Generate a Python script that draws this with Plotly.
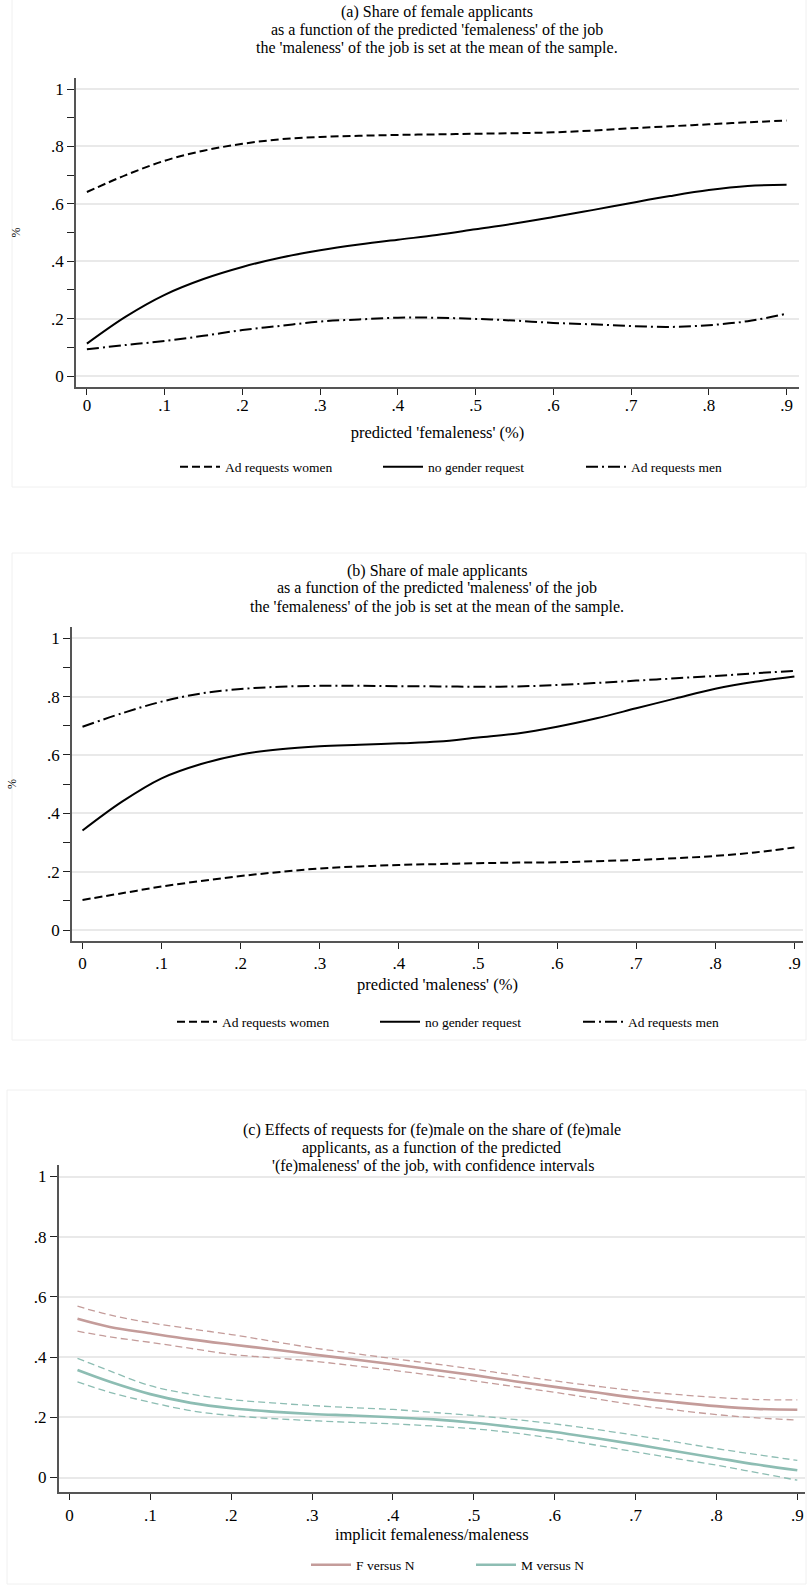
import plotly.graph_objects as go

W, H = 807, 1585
FONT = "Liberation Serif"

# ---------------- data ----------------
x_ab = [0.0, 0.05, 0.1, 0.15, 0.2, 0.25, 0.3, 0.35, 0.4, 0.45,
        0.5, 0.55, 0.6, 0.65, 0.7, 0.75, 0.8, 0.85, 0.9]

# (a) share of female applicants vs predicted femaleness
a_women = [.641, .700, .750, .785, .809, .825, .833, .837, .840, .842,
           .844, .846, .849, .855, .863, .870, .877, .884, .890]
a_none = [.113, .207, .283, .338, .380, .413, .438, .458, .475, .491,
          .511, .531, .554, .578, .603, .627, .648, .662, .666]
a_men = [.093, .108, .122, .140, .160, .175, .190, .197, .203, .203,
         .199, .193, .185, .180, .174, .171, .177, .191, .217]

# (b) share of male applicants vs predicted maleness
b_women = [.103, .126, .149, .168, .185, .199, .211, .218, .223, .226,
           .229, .231, .232, .236, .240, .246, .254, .266, .283]
b_none = [.341, .440, .520, .569, .602, .620, .630, .635, .640, .646,
          .660, .674, .697, .726, .760, .794, .827, .851, .869]
b_men = [.697, .743, .783, .811, .826, .834, .837, .837, .836, .835,
         .834, .835, .840, .847, .855, .863, .871, .880, .888]

# (c) effects with confidence intervals
x_c = [0.01, 0.05, 0.1, 0.15, 0.2, 0.25, 0.3, 0.35, 0.4, 0.45,
       0.5, 0.55, 0.6, 0.65, 0.7, 0.75, 0.8, 0.85, 0.9]
c_f = [.527, .500, .479, .459, .442, .426, .409, .393, .376, .358,
       .340, .320, .301, .283, .265, .250, .237, .228, .225]
c_f_hi = [.569, .540, .514, .494, .475, .453, .431, .413, .395, .378,
          .360, .340, .321, .304, .288, .276, .266, .259, .258]
c_f_lo = [.486, .467, .449, .429, .409, .398, .387, .372, .356, .339,
          .321, .302, .283, .262, .241, .224, .209, .198, .191]
c_m = [.357, .318, .277, .248, .230, .219, .211, .206, .200, .193,
       .182, .167, .151, .131, .110, .087, .065, .043, .024]
c_m_hi = [.396, .354, .305, .277, .259, .248, .239, .232, .226, .216,
          .206, .193, .178, .160, .140, .118, .096, .076, .057]
c_m_lo = [.318, .283, .250, .222, .206, .196, .189, .183, .178, .171,
          .162, .148, .129, .108, .085, .063, .041, .016, -.009]

x_ticks = [0, .1, .2, .3, .4, .5, .6, .7, .8, .9]
x_ticklabels = ["0", ".1", ".2", ".3", ".4", ".5", ".6", ".7", ".8", ".9"]
y_ticks = [0, .2, .4, .6, .8, 1]
y_ticklabels = ["0", ".2", ".4", ".6", ".8", "1"]

titles = {
    "a": ["(a) Share of female applicants",
          "as a function of the predicted 'femaleness' of the job",
          "the 'maleness' of the job is set at the mean of the sample."],
    "b": ["(b) Share of male applicants",
          "as a function of the predicted 'maleness' of the job",
          "the 'femaleness' of the job is set at the mean of the sample."],
    "c": ["(c) Effects of requests for (fe)male on the share of (fe)male",
          "applicants, as a function of the predicted",
          " '(fe)maleness' of the job, with confidence intervals"],
}
x_titles = {"a": "predicted 'femaleness' (%)",
            "b": "predicted 'maleness' (%)",
            "c": "implicit femaleness/maleness"}

# ---------------- layout geometry (pixels) ----------------
geo = {
    "a": dict(l=76, r=799, t=78, b=387, x0=86.9, xu=777.4, y0=376.0, yu=287.0,
              title_x=437, title_y=[12, 30, 48], legend_x=175, legend_y=467,
              entry=148, lstand=-4, tstand=12, box=(12, -2, 806, 487)),
    "b": dict(l=72, r=803, t=627, b=941, x0=82.5, xu=791.0, y0=930.0, yu=291.7,
              title_x=437, title_y=[570.5, 588.5, 606.5], legend_x=172, legend_y=1022,
              entry=148, lstand=0, tstand=6, box=(12, 553, 806, 1040)),
    "c": dict(l=58.6, r=805, t=1165, b=1492, x0=69.4, xu=808.8, y0=1477.5, yu=301.0,
              title_x=432, title_y=[1130, 1148, 1166], legend_x=306, legend_y=1565,
              entry=110, lstand=1, tstand=0, box=(7, 1090, 806, 1584)),
}


def fx(p):
    return p / W


def fy(p):
    return 1 - p / H


fig = go.Figure()

DASH = "8px,4px"
DASHDOT = "12px,4px,2px,4px"
F_COL = "#c49c9a"
M_COL = "#8dbdb3"

# (a)
fig.add_trace(go.Scatter(x=x_ab, y=a_women, mode="lines", name="Ad requests women",
                         line=dict(color="black", width=2, dash=DASH, shape="spline"),
                         xaxis="x", yaxis="y", legend="legend"))
fig.add_trace(go.Scatter(x=x_ab, y=a_none, mode="lines", name="no gender request",
                         line=dict(color="black", width=2, shape="spline"),
                         xaxis="x", yaxis="y", legend="legend"))
fig.add_trace(go.Scatter(x=x_ab, y=a_men, mode="lines", name="Ad requests men",
                         line=dict(color="black", width=2, dash=DASHDOT, shape="spline"),
                         xaxis="x", yaxis="y", legend="legend"))
# (b)
fig.add_trace(go.Scatter(x=x_ab, y=b_women, mode="lines", name="Ad requests women",
                         line=dict(color="black", width=2, dash=DASH, shape="spline"),
                         xaxis="x2", yaxis="y2", legend="legend2"))
fig.add_trace(go.Scatter(x=x_ab, y=b_none, mode="lines", name="no gender request",
                         line=dict(color="black", width=2, shape="spline"),
                         xaxis="x2", yaxis="y2", legend="legend2"))
fig.add_trace(go.Scatter(x=x_ab, y=b_men, mode="lines", name="Ad requests men",
                         line=dict(color="black", width=2, dash=DASHDOT, shape="spline"),
                         xaxis="x2", yaxis="y2", legend="legend2"))
# (c)
for ys, col in [(c_f_hi, F_COL), (c_f_lo, F_COL), (c_m_hi, M_COL), (c_m_lo, M_COL)]:
    fig.add_trace(go.Scatter(x=x_c, y=ys, mode="lines", showlegend=False,
                             line=dict(color=col, width=1.3, dash="7px,4px", shape="spline"),
                             xaxis="x3", yaxis="y3", hoverinfo="skip"))
fig.add_trace(go.Scatter(x=x_c, y=c_f, mode="lines", name="F versus N",
                         line=dict(color=F_COL, width=2.6, shape="spline"),
                         xaxis="x3", yaxis="y3", legend="legend3"))
fig.add_trace(go.Scatter(x=x_c, y=c_m, mode="lines", name="M versus N",
                         line=dict(color=M_COL, width=2.6, shape="spline"),
                         xaxis="x3", yaxis="y3", legend="legend3"))

layout = dict(
    width=W, height=H, margin=dict(l=0, r=0, t=0, b=0),
    paper_bgcolor="white", plot_bgcolor="white",
    font=dict(family=FONT, color="black", size=15),
    showlegend=True,
)

annotations = []
shapes = []
for i, key in enumerate(["a", "b", "c"]):
    g = geo[key]
    sfx = "" if i == 0 else str(i + 1)
    xr = [(g["l"] - g["x0"]) / g["xu"], (g["r"] - g["x0"]) / g["xu"]]
    yr = [(g["y0"] - g["b"]) / g["yu"], (g["y0"] - g["t"]) / g["yu"]]
    layout["xaxis" + sfx] = dict(
        domain=[fx(g["l"]), fx(g["r"])], range=xr, anchor="y" + sfx,
        tickmode="array", tickvals=x_ticks, ticktext=x_ticklabels,
        ticks="outside", ticklen=6, tickwidth=1.2, tickcolor="#222",
        showline=True, linecolor="#555", linewidth=1.6, mirror=False,
        showgrid=False, zeroline=False, automargin=False,
        tickfont=dict(family=FONT, size=17, color="black"),
        title=dict(text=x_titles[key], font=dict(family=FONT, size=16.5, color="black"),
                   standoff=g["tstand"]),
        ticklabelstandoff=g["lstand"],
    )
    yax = dict(
        domain=[fy(g["b"]), fy(g["t"])], range=yr, anchor="x" + sfx,
        tickmode="array", tickvals=y_ticks, ticktext=y_ticklabels,
        ticks="outside", ticklen=7, tickwidth=1.2, tickcolor="#222",
        showline=True, linecolor="#555", linewidth=1.6,
        showgrid=True, gridcolor="#e9e9e9", gridwidth=1.5,
        zeroline=False, automargin=False,
        tickfont=dict(family=FONT, size=17, color="black"),
    )
    if key in ("a", "b"):
        yax["minor"] = dict(tickmode="array", tickvals=[.1, .3, .5, .7, .9],
                            ticks="outside", ticklen=7, tickwidth=1.2, tickcolor="#222",
                            showgrid=False)
        yax["title"] = dict(text="%", font=dict(family=FONT, size=12, color="black"),
                            standoff=28)
    layout["yaxis" + sfx] = yax

    for line_text, ly in zip(titles[key], g["title_y"]):
        annotations.append(dict(text=line_text, x=fx(g["title_x"]), y=fy(ly),
                                xref="paper", yref="paper",
                                xanchor="center", yanchor="middle", showarrow=False,
                                font=dict(family=FONT, size=16, color="black")))
    bx0, by0, bx1, by1 = g["box"]
    shapes.append(dict(type="rect", xref="paper", yref="paper",
                       x0=fx(bx0), x1=fx(bx1), y0=fy(by1), y1=fy(by0),
                       line=dict(color="#f0f0f0", width=1), fillcolor="rgba(0,0,0,0)",
                       layer="below"))

    leg = dict(orientation="h", xanchor="left", yanchor="middle",
               x=fx(g["legend_x"]), y=fy(g["legend_y"]), bgcolor="rgba(0,0,0,0)",
               font=dict(family=FONT, size=13.5, color="black"),
               itemwidth=40, entrywidth=g["entry"], entrywidthmode="pixels",
               tracegroupgap=0)
    layout["legend" if i == 0 else "legend" + str(i + 1)] = leg

layout["annotations"] = annotations
layout["shapes"] = shapes
fig.update_layout(**layout)

fig.write_html("out.html")
